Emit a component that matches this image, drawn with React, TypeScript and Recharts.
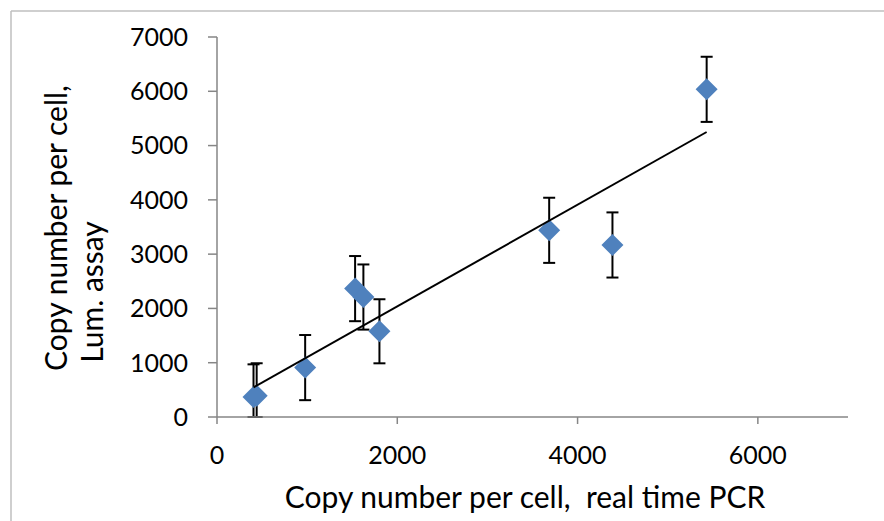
import React from 'react'
import { ScatterChart, Scatter, XAxis, YAxis, ErrorBar } from 'recharts'

// copy number per cell: real time PCR (x) vs luminescence assay (y)
const pcrCopies = [405, 440, 978, 1532, 1624, 1802, 3685, 4387, 5432]
const lumCopies = [370, 390, 910, 2365, 2210, 1579, 3439, 3169, 6036]
const lumErrors = [600, 600, 600, 600, 600, 590, 600, 600, 600]

// linear trendline end points
const trendX = [405, 5432]
const trendY = [545, 5250]

const xTicks = [0, 2000, 4000, 6000]
const yTicks = [0, 1000, 2000, 3000, 4000, 5000, 6000, 7000]

// lower whisker stops at the x axis, like the original
const points = pcrCopies.map((x, i) => ({
  x,
  y: lumCopies[i],
  err: [Math.min(lumErrors[i], lumCopies[i]), lumErrors[i]],
}))
const trend = trendX.map((x, i) => ({ x, y: trendY[i] }))

const AXIS = '#868686'
const FONT = 'Lato, "Open Sans", sans-serif'

const Diamond = (props: any) => {
  const { cx, cy } = props
  const r = 11
  return (
    <polygon
      points={`${cx},${cy - r} ${cx + r},${cy} ${cx},${cy + r} ${cx - r},${cy}`}
      fill="#4F81BD"
    />
  )
}

export default function App() {
  return (
    <div style={{ position: 'relative', width: 884, height: 521, background: '#fff', fontFamily: FONT }}>
      <style>{'body{margin:0}'}</style>
      <ScatterChart width={884} height={521} margin={{ top: 37, right: 36, bottom: 0, left: 0 }}>
        <XAxis
          type="number"
          dataKey="x"
          domain={[0, 7000]}
          ticks={xTicks}
          allowDataOverflow
          height={104}
          tickSize={7}
          tickMargin={22}
          axisLine={{ stroke: AXIS, strokeWidth: 1.5 }}
          tickLine={{ stroke: AXIS, strokeWidth: 1.5 }}
          tick={{ fill: '#000', fontSize: 25, fontFamily: FONT }}
        />
        <YAxis
          type="number"
          dataKey="y"
          domain={[0, 7000]}
          ticks={yTicks}
          allowDataOverflow
          width={217}
          tickSize={9}
          tickMargin={20}
          axisLine={{ stroke: AXIS, strokeWidth: 1.5 }}
          tickLine={{ stroke: AXIS, strokeWidth: 1.5 }}
          tick={{ fill: '#000', fontSize: 25, fontFamily: FONT }}
        />
        <Scatter data={points} shape={Diamond} isAnimationActive={false}>
          <ErrorBar dataKey="err" direction="y" width={6} stroke="#000" strokeWidth={2} />
        </Scatter>
        <Scatter
          data={trend}
          line={{ stroke: '#000', strokeWidth: 2 }}
          shape={() => <g />}
          isAnimationActive={false}
        />
      </ScatterChart>
      <svg width={884} height={521} style={{ position: 'absolute', left: 0, top: 0, pointerEvents: 'none' }}>
        <line x1={11} y1={11} x2={11} y2={521} stroke="#BFBFBF" strokeWidth={1.5} />
        <line x1={11} y1={11} x2={884} y2={11} stroke="#BFBFBF" strokeWidth={1.5} />
        <text x={525} y={508} textAnchor="middle" fontSize={30} fontFamily={FONT} fill="#000">
          {'Copy number per cell,\u00A0 real time PCR'}
        </text>
        <text transform="translate(67,228) rotate(-90)" textAnchor="middle" fontSize={30} fontFamily={FONT} fill="#000">
          Copy number per cell,
        </text>
        <text transform="translate(103,292) rotate(-90)" textAnchor="middle" fontSize={30} fontFamily={FONT} fill="#000">
          Lum. assay
        </text>
      </svg>
    </div>
  )
}
